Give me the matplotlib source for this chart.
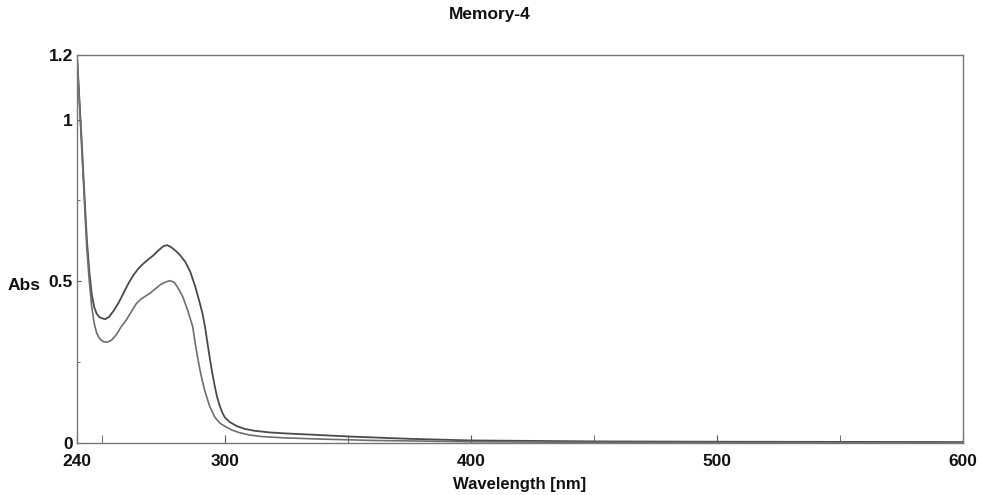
import matplotlib
matplotlib.use("Agg")
import matplotlib.pyplot as plt

# ---------- Data ----------
wl_upper = [240, 241, 242, 243, 244, 245, 246, 247, 248, 249, 250, 251.5, 253, 255,
            257, 259, 261, 263, 265, 267, 269, 271, 273, 275, 276.5, 278, 280, 282,
            284, 286, 288, 290, 291, 292, 293, 294, 295, 296, 297, 298, 299, 300,
            302, 305, 308, 312, 318, 324, 335, 351, 375, 400, 450, 500, 600]
abs_upper = [1.20, 1.06, 0.92, 0.77, 0.63, 0.53, 0.46, 0.42, 0.40, 0.39, 0.386, 0.383,
             0.39, 0.41, 0.435, 0.465, 0.495, 0.52, 0.54, 0.555, 0.568, 0.58, 0.595,
             0.608, 0.612, 0.607, 0.595, 0.58, 0.56, 0.53, 0.485, 0.43, 0.40, 0.36,
             0.31, 0.26, 0.215, 0.175, 0.14, 0.115, 0.095, 0.08, 0.065, 0.052, 0.044,
             0.038, 0.033, 0.030, 0.026, 0.020, 0.013, 0.008, 0.005, 0.004, 0.003]

wl_lower = [240, 241, 242, 243, 244, 245, 246, 247, 248, 249, 250, 251, 252.5, 254,
            256, 258, 260, 262, 264, 266, 268, 270, 272, 274, 276, 277.8, 279.5, 281,
            283, 285, 287, 288, 289, 290, 291, 292, 293, 294, 296, 298, 300, 303, 306,
            310, 315, 324, 340, 360, 400, 450, 600]
abs_lower = [1.20, 1.05, 0.90, 0.75, 0.60, 0.50, 0.42, 0.37, 0.34, 0.325, 0.317, 0.313,
             0.312, 0.318, 0.335, 0.36, 0.38, 0.405, 0.43, 0.445, 0.455, 0.465, 0.478,
             0.49, 0.498, 0.502, 0.497, 0.48, 0.452, 0.41, 0.36, 0.31, 0.265, 0.225,
             0.19, 0.16, 0.135, 0.112, 0.08, 0.062, 0.052, 0.040, 0.032, 0.025, 0.020,
             0.016, 0.012, 0.008, 0.004, 0.002, 0.001]

x_major = [240, 300, 400, 500, 600]
x_minor = [250, 350, 450, 550]
y_major = [0, 0.5, 1, 1.2]
y_labels = ["0", "0.5", "1", "1.2"]
y_minor = [0.25, 0.75]

plt.rcParams["font.family"] = ["Liberation Sans", "DejaVu Sans"]
plt.rcParams["font.weight"] = "bold"

fig = plt.figure(figsize=(9.82, 4.95), dpi=100)
ax = fig.add_axes([0.0784, 0.105, 0.9023, 0.784])

ax.plot(wl_upper, abs_upper, color="#4a4a4a", lw=1.3)
ax.plot(wl_lower, abs_lower, color="#6e6e6e", lw=1.2)

ax.set_xlim(240, 600)
ax.set_ylim(0, 1.2)
ax.set_xticks(x_major)
ax.set_xticks(x_minor, minor=True)
ax.set_yticks(y_major)
ax.set_yticklabels(y_labels)
ax.set_yticks(y_minor, minor=True)

ax.tick_params(axis="both", which="both", direction="in", color="#555555",
               labelsize=12.5, labelcolor="#111111")
ax.tick_params(axis="x", which="both", length=6, pad=8)
ax.tick_params(axis="y", which="major", length=3, pad=3)
ax.tick_params(axis="y", which="minor", length=2)

for sp in ax.spines.values():
    sp.set_color("#777777")
    sp.set_linewidth(1.0)

fig.text(490 / 982, 1 - 15 / 495, "Memory-4", ha="center", va="center",
         fontsize=12.5, fontweight="bold", color="#111111")
fig.text(520 / 982, 1 - 484 / 495, "Wavelength [nm]", ha="center", va="center",
         fontsize=12, fontweight="bold", color="#111111")
fig.text(8 / 982, 1 - 285 / 495, "Abs", ha="left", va="center",
         fontsize=12.5, fontweight="bold", color="#111111")

fig.savefig("out.png", dpi=100)
